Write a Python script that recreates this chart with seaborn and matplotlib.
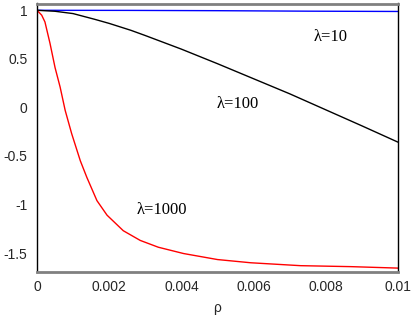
import numpy as np
import pandas as pd
import matplotlib
matplotlib.use("Agg")
import matplotlib.pyplot as plt
from matplotlib.ticker import MultipleLocator
import seaborn as sns

# ---- data ----
rho_10 = [0.0, 0.0025, 0.005, 0.0075, 0.01]
val_10 = [1.0, 0.999, 0.996, 0.991, 0.988]

rho_100 = [0.0, 0.0005, 0.001, 0.0016, 0.002, 0.0026, 0.003, 0.004, 0.005,
           0.006, 0.007, 0.008, 0.009, 0.01]
val_100 = [1.0, 0.99, 0.966, 0.907, 0.865, 0.794, 0.74, 0.60, 0.45,
           0.295, 0.14, -0.025, -0.19, -0.358]

rho_1000 = [0.0, 0.00013, 0.00022, 0.00036, 0.0005, 0.00064, 0.00078, 0.00096,
            0.0012, 0.00138, 0.00166, 0.00194, 0.00239, 0.00286, 0.00336,
            0.00406, 0.005, 0.00592, 0.0073, 0.0087, 0.01]
val_1000 = [1.0, 0.95, 0.88, 0.66, 0.41, 0.21, -0.03, -0.27,
            -0.55, -0.72, -0.96, -1.11, -1.27, -1.37, -1.44,
            -1.505, -1.567, -1.60, -1.63, -1.64, -1.655]

labels = ["λ=10", "λ=100", "λ=1000"]
label_pos = [(0.00814, 0.73), (0.00556, 0.03), (0.00347, -1.06)]
colors = ["#0000ff", "#000000", "#ff0000"]

x_ticks = [0, 0.002, 0.004, 0.006, 0.008, 0.01]
x_ticklabels = ["0", "0.002", "0.004", "0.006", "0.008", "0.01"]
y_ticks = [1, 0.5, 0, -0.5, -1, -1.5]
y_ticklabels = ["1", "0.5", "0", "-0.5", "-1", "-1.5"]

sns.set_style("white")
plt.rcParams["font.family"] = ["Liberation Sans", "DejaVu Sans"]

fig = plt.figure(figsize=(4.15, 3.18), dpi=100)
ax = fig.add_axes([37 / 415, 1 - 271.5 / 318, (398 - 37) / 415, (271.5 - 3.5) / 318])

for rx, vy, c in zip([rho_10, rho_100, rho_1000], [val_10, val_100, val_1000], colors):
    df = pd.DataFrame({"rho": rx, "v": vy})
    sns.lineplot(data=df, x="rho", y="v", ax=ax, color=c, linewidth=1.0,
                 sort=False, estimator=None)

for lab, (px, py) in zip(labels, label_pos):
    ax.text(px, py, lab, ha="center", va="center", fontsize=12,
            family=["Liberation Serif", "DejaVu Serif"], color="black")

ax.set_xlim(0, 0.01)
ax.set_ylim(-1.69, 1.07)
ax.set_xticks(x_ticks)
ax.set_xticklabels(x_ticklabels)
ax.set_yticks(y_ticks)
ax.set_yticklabels(y_ticklabels)
ax.xaxis.set_minor_locator(MultipleLocator(0.0004))
ax.yaxis.set_minor_locator(MultipleLocator(0.1))
ax.set_xlabel("ρ", fontsize=10, labelpad=5)
ax.set_ylabel("")

ax.tick_params(axis="x", which="major", direction="out", length=5, width=1,
               color="#808080", labelsize=10, pad=1)
ax.tick_params(axis="x", which="minor", direction="out", length=3, width=1,
               color="#808080")
ax.tick_params(axis="y", which="major", direction="out", length=5, width=1,
               color="#808080", labelsize=10, pad=2)
ax.tick_params(axis="y", which="minor", direction="out", length=3, width=1,
               color="#808080")

ax.spines["left"].set_color("black")
ax.spines["left"].set_linewidth(1.0)
ax.spines["right"].set_color("black")
ax.spines["right"].set_linewidth(1.0)
ax.spines["top"].set_color("#808080")
ax.spines["top"].set_linewidth(2.0)
ax.spines["bottom"].set_color("#808080")
ax.spines["bottom"].set_linewidth(2.0)
for s in ax.spines.values():
    s.set_visible(True)

fig.savefig("out.png", dpi=100)
